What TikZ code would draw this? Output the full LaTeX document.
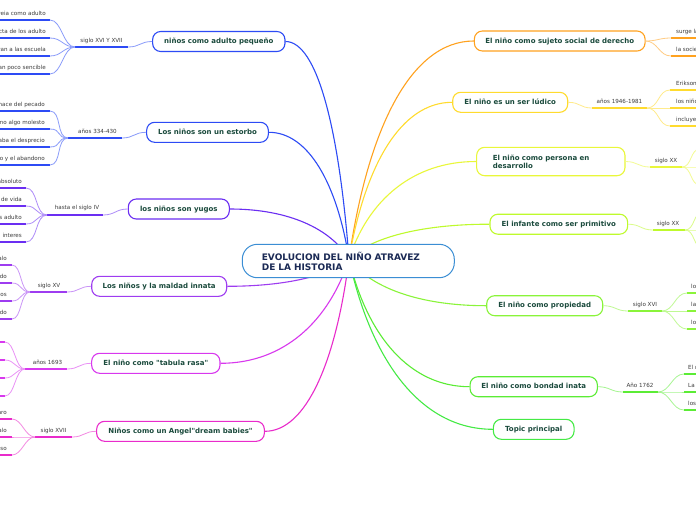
\documentclass[tikz,border=0pt]{standalone}
\usepackage{fontspec}
\setmainfont{DejaVu Sans}[Ligatures=TeXOff]
\usetikzlibrary{backgrounds}
\definecolor{cA}{HTML}{2D4BF5}
\definecolor{cB}{HTML}{6B2EF2}
\definecolor{cC}{HTML}{9E3CF0}
\definecolor{cD}{HTML}{D838EE}
\definecolor{cE}{HTML}{E92BCB}
\definecolor{cF}{HTML}{FFA21F}
\definecolor{cG}{HTML}{FFDB2E}
\definecolor{cH}{HTML}{E9F73A}
\definecolor{cI}{HTML}{BEFA2C}
\definecolor{cJ}{HTML}{8AF43A}
\definecolor{cK}{HTML}{5BEC35}
\definecolor{cL}{HTML}{45EA45}
\definecolor{ccent}{HTML}{3B8ED4}
\definecolor{tcol}{HTML}{1A4A3C}
\definecolor{ctext}{HTML}{1B2A55}
\definecolor{gtxt}{HTML}{3C3C3C}
\begin{document}
\begin{tikzpicture}[x=1pt,y=-1pt,
  topicbase/.style={draw=#1, fill=white, rounded corners=8pt, line width=1.1pt, text=tcol,
    font=\fontsize{7}{8}\selectfont\bfseries, minimum height=20pt, inner xsep=0pt, inner ysep=0pt},
  topic/.style={topicbase=#1, text height=5.5pt, text depth=1.5pt},
  subt/.style={text=gtxt, font=\fontsize{5.6}{6.5}\selectfont, inner sep=0pt, text height=4pt, text depth=1pt},
  uline/.style={draw=#1, line width=1.5pt},
  link/.style={draw=#1!55!white, line width=0.8pt},
  branch/.style={draw=#1, line width=1.1pt},
  central/.style={draw=ccent, fill=white, line width=1pt, rounded corners=15pt, text=ctext,
    font=\fontsize{9}{10}\selectfont\bfseries, align=left, text width=173pt, inner xsep=19.5pt,
    inner ysep=0pt, minimum height=33.4pt}
]
\useasboundingbox (0,0) rectangle (696,520);
\clip (0,0) rectangle (696,520);

% central
\node[central] (c) at (348.3,261) {EVOLUCION DEL NIÑO ATRAVEZ\\DE LA HISTORIA};
\coordinate (hub) at (349,259);

% main topics
\node[topic=cA, minimum width=132.3pt] (n1) at (218.8,41.5) {niños como adulto pequeño};
\node[topic=cA, minimum width=121.7pt] (n2) at (207.5,132.3) {Los niños son un estorbo};
\node[topic=cB, minimum width=101pt] (n3) at (178.8,209) {los niños son yugos};
\node[topic=cC, minimum width=135pt] (n4) at (159.2,286.3) {Los niños y la maldad innata};
\node[topic=cD, minimum width=128.3pt] (n5) at (155.8,363.3) {El niño como "tabula rasa"};
\node[topic=cE, minimum width=167.7pt] (n6) at (180.5,431.3) {Niños como un Angel"dream babies"};
\node[topic=cF, minimum width=170.7pt] (n7) at (559.7,41) {El niño como sujeto social de derecho};
\node[topic=cG, minimum width=115pt] (n8) at (510.2,102.3) {El niño es un ser lúdico};
\node[topicbase=cH, minimum height=28.4pt, text width=115.7pt, inner xsep=16.3pt, align=left] (n9) at (550.8,161.5) {El niño como persona en\\desarrollo};
\node[topic=cI, minimum width=137.7pt] (n10) at (558.8,224.2) {El infante como ser primitivo};
\node[topic=cJ, minimum width=116pt] (n11) at (544.7,305.7) {El niño como propiedad};
\node[topic=cK, minimum width=127.3pt] (n12) at (533.7,386.7) {El niño como bondad inata};
\node[topic=cL, minimum width=80.7pt] (n13) at (533.7,429.3) {Topic principal};

\begin{scope}[on background layer]
\fill[white] (0,0) rectangle (696,520);
\draw[branch=cA] (hub) .. controls (339,128) and (317,41.5) .. (n1.east);
\draw[branch=cA] (hub) .. controls (337,183) and (308,132.3) .. (n2.east);
\draw[branch=cB] (hub) .. controls (331,229) and (289,209) .. (n3.east);
\draw[branch=cC] (hub) .. controls (331,275) and (288,286.3) .. (n4.east);
\draw[branch=cD] (hub) .. controls (329,321) and (284,363.3) .. (n5.east);
\draw[branch=cE] (hub) .. controls (336,362) and (306,431.3) .. (n6.east);
\draw[branch=cF] (hub) .. controls (368,128) and (411,41) .. (n7.west);
\draw[branch=cG] (hub) .. controls (365,165) and (401,102.3) .. (n8.west);
\draw[branch=cH] (hub) .. controls (368,200) and (413,161.5) .. (n9.west);
\draw[branch=cI] (hub) .. controls (370,238) and (420,224.2) .. (n10.west);
\draw[branch=cJ] (hub) .. controls (370,287) and (418,305.7) .. (n11.west);
\draw[branch=cK] (hub) .. controls (367,336) and (410,386.7) .. (n12.west);
\draw[branch=cL] (hub) .. controls (371,361) and (421,429.3) .. (n13.west);
\end{scope}

% ---------- group 1
\node[subt] (s1) at (101.5,41) {siglo XVI Y XVII};
\coordinate (s1l) at (75,47); \coordinate (s1r) at (128,47);
\draw[uline=cA] (s1l) -- (s1r);
\draw[link=cA] (n1.west) .. controls +(-12,0) and +(12,0) .. (s1r);
\foreach \y/\t [count=\i] in {14/veia como adulto, 32/cta de los adulto, 50/van a las escuela, 68/an poco sencible}{
  \node[subt, anchor=east] (a\i) at (46,\y) {\t};
  \coordinate (ar\i) at (50,\y+6);
  \draw[uline=cA] (ar\i) -- ++(-60,0);
  \draw[link=cA] (s1l) .. controls +(-12,0) and +(12,0) .. (ar\i);
}
% ---------- group 2
\node[subt] (s2) at (97.5,132) {años 334-430};
\coordinate (s2l) at (68,138); \coordinate (s2r) at (122,138);
\draw[uline=cA] (s2l) -- (s2r);
\draw[link=cA] (n2.west) .. controls +(-12,0) and +(12,0) .. (s2r);
\foreach \y/\t [count=\i] in {105/nace del pecado, 123/mo algo molesto, 141/aba el desprecio, 159/o y el abandono}{
  \node[subt, anchor=east] (b\i) at (45,\y) {\t};
  \coordinate (br\i) at (50,\y+6);
  \draw[uline=cA] (br\i) -- ++(-60,0);
  \draw[link=cA] (s2l) .. controls +(-12,0) and +(12,0) .. (br\i);
}
% ---------- group 3
\node[subt] (s3) at (77,208) {hasta el siglo IV};
\coordinate (s3l) at (47,215); \coordinate (s3r) at (103,215);
\draw[uline=cB] (s3l) -- (s3r);
\draw[link=cB] (n3.west) .. controls +(-12,0) and +(12,0) .. (s3r);
\foreach \y/\t [count=\i] in {182/absoluto, 200/de vida, 218/s adulto, 236/interes}{
  \node[subt, anchor=east] (d\i) at (22,\y) {\t};
  \coordinate (dr\i) at (26,\y+6);
  \draw[uline=cB] (dr\i) -- ++(-40,0);
  \draw[link=cB] (s3l) .. controls +(-12,0) and +(12,0) .. (dr\i);
}
% ---------- group 4
\node[subt] (s4) at (49,286) {siglo XV};
\coordinate (s4l) at (30,292); \coordinate (s4r) at (67,292);
\draw[uline=cC] (s4l) -- (s4r);
\draw[link=cC] (n4.west) .. controls +(-12,0) and +(12,0) .. (s4r);
\foreach \y/\t [count=\i] in {259/alo, 277/do, 295/os, 313/do}{
  \node[subt, anchor=east] (e\i) at (7,\y) {\t};
  \coordinate (er\i) at (12,\y+6);
  \draw[uline=cC] (er\i) -- ++(-30,0);
  \draw[link=cC] (s4l) .. controls +(-10,0) and +(10,0) .. (er\i);
}
% ---------- group 5
\node[subt] (s5) at (47.5,363) {años 1693};
\coordinate (s5l) at (25,369); \coordinate (s5r) at (67,369);
\draw[uline=cD] (s5l) -- (s5r);
\draw[link=cD] (n5.west) .. controls +(-12,0) and +(12,0) .. (s5r);
\foreach \y [count=\i] in {342,360,378,396}{
  \coordinate (fr\i) at (5,\y);
  \draw[uline=cD] (fr\i) -- ++(-30,0);
  \draw[link=cD] (s5l) .. controls +(-10,0) and +(10,0) .. (fr\i);
}
% ---------- group 6
\node[subt] (s6) at (53.5,431) {siglo XVII};
\coordinate (s6l) at (35,437); \coordinate (s6r) at (72,437);
\draw[uline=cE] (s6l) -- (s6r);
\draw[link=cE] (n6.west) .. controls +(-12,0) and +(12,0) .. (s6r);
\foreach \y/\t [count=\i] in {413/aro, 431/alo, 449/eso}{
  \node[subt, anchor=east] (g\i) at (7,\y) {\t};
  \coordinate (gr\i) at (12,\y+6);
  \draw[uline=cE] (gr\i) -- ++(-30,0);
  \draw[link=cE] (s6l) .. controls +(-10,0) and +(10,0) .. (gr\i);
}
% ---------- group 7
\foreach \y/\t [count=\i] in {32/surge la, 50/la socie}{
  \node[subt, anchor=west] (h\i) at (676,\y) {\t};
  \coordinate (hl\i) at (671,\y+6);
  \draw[uline=cF] (hl\i) -- ++(40,0);
  \draw[link=cF] (n7.east) .. controls +(12,0) and +(-12,0) .. (hl\i);
}
% ---------- group 8
\node[subt] (s8) at (619.5,102) {años 1946-1981};
\coordinate (s8l) at (592,108); \coordinate (s8r) at (647,108);
\draw[uline=cG] (s8l) -- (s8r);
\draw[link=cG] (n8.east) .. controls +(12,0) and +(-12,0) .. (s8l);
\foreach \y/\t [count=\i] in {84/Erikson, 102/los niños, 120/incluyen}{
  \node[subt, anchor=west] (k\i) at (676,\y) {\t};
  \coordinate (kl\i) at (670,\y+6);
  \draw[uline=cG] (kl\i) -- ++(40,0);
  \draw[link=cG] (s8r) .. controls +(12,0) and +(-12,0) .. (kl\i);
}
% ---------- group 9
\node[subt] (s9) at (666,161) {siglo XX};
\coordinate (s9l) at (650,167); \coordinate (s9r) at (682,167);
\draw[uline=cH] (s9l) -- (s9r);
\draw[link=cH] (n9.east) .. controls +(12,0) and +(-12,0) .. (s9l);
\foreach \y [count=\i] in {149,167,185}{
  \coordinate (ml\i) at (700,\y);
  \draw[uline=cH] (ml\i) -- ++(30,0);
  \draw[link=cH] (s9r) .. controls +(10,0) and +(-10,0) .. (ml\i);
}
% ---------- group 10
\node[subt] (s10) at (668,224) {siglo XX};
\coordinate (s10l) at (653,230); \coordinate (s10r) at (685,230);
\draw[uline=cI] (s10l) -- (s10r);
\draw[link=cI] (n10.east) .. controls +(12,0) and +(-12,0) .. (s10l);
\foreach \y [count=\i] in {212,230,248}{
  \coordinate (pl\i) at (703,\y);
  \draw[uline=cI] (pl\i) -- ++(30,0);
  \draw[link=cI] (s10r) .. controls +(10,0) and +(-10,0) .. (pl\i);
}
% ---------- group 11
\node[subt] (s11) at (645,305) {siglo XVI};
\coordinate (s11l) at (628,311); \coordinate (s11r) at (662,311);
\draw[uline=cJ] (s11l) -- (s11r);
\draw[link=cJ] (n11.east) .. controls +(12,0) and +(-12,0) .. (s11l);
\foreach \y/\t [count=\i] in {287/los, 305/las, 323/los}{
  \node[subt, anchor=west] (q\i) at (691,\y) {\t};
  \coordinate (ql\i) at (687,\y+6);
  \draw[uline=cJ] (ql\i) -- ++(30,0);
  \draw[link=cJ] (s11r) .. controls +(12,0) and +(-12,0) .. (ql\i);
}
% ---------- group 12
\node[subt] (s12) at (640,386) {Año 1762};
\coordinate (s12l) at (623,392); \coordinate (s12r) at (658,392);
\draw[uline=cK] (s12l) -- (s12r);
\draw[link=cK] (n12.east) .. controls +(12,0) and +(-12,0) .. (s12l);
\foreach \y/\t [count=\i] in {368/El n, 386/La, 404/los}{
  \node[subt, anchor=west] (r\i) at (688,\y) {\t};
  \coordinate (rl\i) at (684,\y+6);
  \draw[uline=cK] (rl\i) -- ++(30,0);
  \draw[link=cK] (s12r) .. controls +(12,0) and +(-12,0) .. (rl\i);
}
\end{tikzpicture}
\end{document}
